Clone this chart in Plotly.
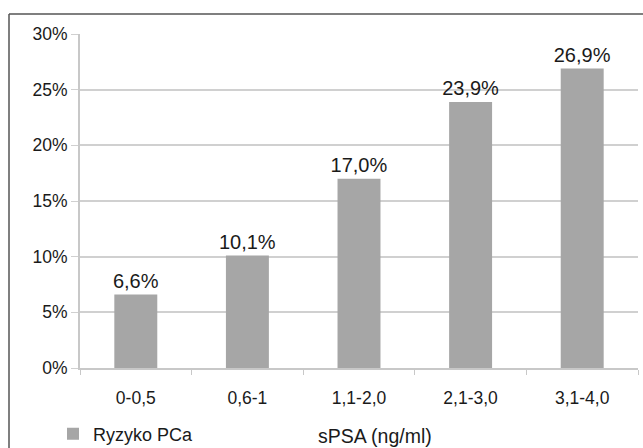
import plotly.graph_objects as go

categories = ["0-0,5", "0,6-1", "1,1-2,0", "2,1-3,0", "3,1-4,0"]
risk = [6.6, 10.1, 17.0, 23.9, 26.9]
labels = ["6,6%", "10,1%", "17,0%", "23,9%", "26,9%"]
y_ticks = [0, 5, 10, 15, 20, 25, 30]
y_tick_text = ["0%", "5%", "10%", "15%", "20%", "25%", "30%"]

W, H = 643, 448
L, R, T, B = 80, 5, 34, 80
pw, ph = W - L - R, H - T - B

def px(x):
    return (x - L) / pw

def py(y):
    return (H - B - y) / ph

fig = go.Figure()
fig.add_trace(go.Bar(
    x=categories, y=risk, name="Ryzyko PCa",
    marker=dict(color="#a6a6a6", line=dict(width=0)),
    text=labels, textposition="outside", cliponaxis=False,
    constraintext="none",
    textfont=dict(size=20, color="#1a1a1a"),
))

border = dict(color="#555555", width=1.5)
fig.update_layout(
    width=W, height=H,
    margin=dict(l=L, r=R, t=T, b=B, autoexpand=False),
    paper_bgcolor="white", plot_bgcolor="white",
    font=dict(family="Liberation Sans, Arial, sans-serif", size=17, color="#1a1a1a"),
    bargap=0.615,
    showlegend=True,
    legend=dict(orientation="h", x=px(53), y=py(434), xanchor="left", yanchor="middle",
                font=dict(size=18), bgcolor="rgba(0,0,0,0)"),
    xaxis=dict(
        type="category", showline=True, linecolor="#c8c8c8", linewidth=2,
        ticks="outside", tickson="boundaries", ticklen=5, tickcolor="#c8c8c8",
        tickfont=dict(size=17.5), showgrid=False, ticklabelstandoff=13,
    ),
    yaxis=dict(
        range=[0, 30], tickvals=y_ticks, ticktext=y_tick_text,
        showline=True, linecolor="#c8c8c8", linewidth=2,
        ticks="outside", ticklen=7, tickcolor="#d0d0d0",
        showgrid=True, gridcolor="#d0d0d0", gridwidth=2,
        tickfont=dict(size=17.5), zeroline=False,
    ),
    shapes=[
        dict(type="line", xref="paper", yref="paper",
             x0=px(9), x1=px(643), y0=py(14), y1=py(14), line=border, layer="below"),
        dict(type="line", xref="paper", yref="paper",
             x0=px(9), x1=px(9), y0=py(14), y1=py(448), line=border, layer="below"),
    ],
    annotations=[dict(text="sPSA (ng/ml)", xref="paper", yref="paper",
                      x=px(375), y=py(436), showarrow=False,
                      font=dict(size=19.5), xanchor="center", yanchor="middle")],
)

fig.write_html("out.html", config={"displayModeBar": False},
               post_script="document.body.style.margin='0';document.body.style.overflow='hidden';")
